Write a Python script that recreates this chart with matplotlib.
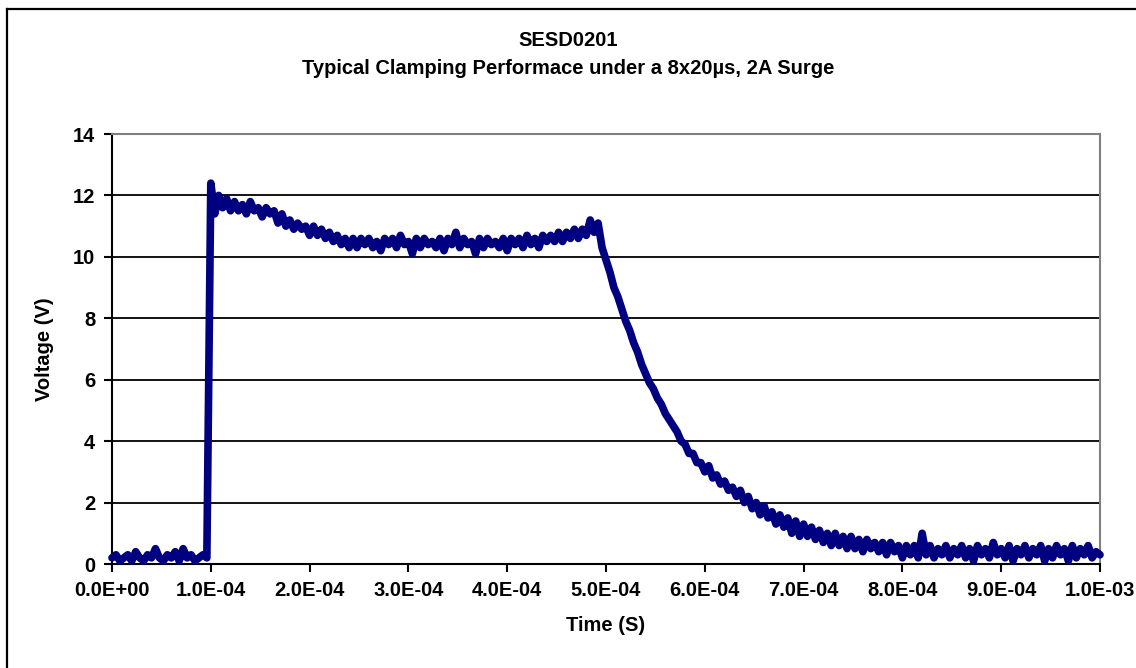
import numpy as np
import matplotlib.pyplot as plt
from matplotlib.lines import Line2D

# sample spacing of the scope trace (s)
dt = 4e-6

# voltage readings (V), every 4 us
v_baseline = [0.2, 0.3, 0.1, 0.2, 0.3, 0.1, 0.4, 0.2, 0.1, 0.3,
              0.2, 0.5, 0.2, 0.1, 0.3, 0.2, 0.4, 0.1, 0.5, 0.2,
              0.3, 0.1, 0.2, 0.3, 0.2]
v_clamp = [12.4, 11.4, 12.0, 11.6, 11.9, 11.5, 11.8, 11.5, 11.7, 11.4,
           11.8, 11.5, 11.6, 11.3, 11.6, 11.4, 11.5, 11.1, 11.4, 11.0,
           11.2, 10.9, 11.1, 10.9, 11.0, 10.7, 11.0, 10.7, 10.9, 10.6,
           10.8, 10.5, 10.7, 10.4, 10.6, 10.3, 10.6]
v_flat = [10.3, 10.6, 10.4, 10.6, 10.3, 10.5, 10.2, 10.6, 10.4, 10.6,
          10.3, 10.7, 10.4, 10.5, 10.1, 10.6, 10.3, 10.6, 10.4, 10.5,
          10.3, 10.6, 10.2, 10.6, 10.4, 10.8, 10.3, 10.6, 10.4, 10.5,
          10.1, 10.6, 10.3, 10.6, 10.4, 10.5, 10.3, 10.6, 10.2, 10.6,
          10.4, 10.6, 10.3, 10.7, 10.4, 10.6, 10.3, 10.7, 10.5, 10.7]
v_decay = [10.5, 10.8, 10.5, 10.8, 10.6, 10.9, 10.6, 10.9, 10.7, 11.2,
           10.8, 11.1, 10.3, 9.9, 9.5, 9.0, 8.7, 8.3, 7.9, 7.6,
           7.2, 6.9, 6.5, 6.2, 5.9, 5.7, 5.4, 5.2, 4.9, 4.7,
           4.5, 4.3, 4.0, 3.9, 3.6, 3.6, 3.3, 3.3, 3.0, 3.2,
           2.8, 2.9, 2.6, 2.7, 2.4, 2.5, 2.2, 2.4, 2.0, 2.2,
           1.8, 2.0, 1.6, 1.9, 1.5, 1.7, 1.3, 1.6, 1.2, 1.5,
           1.0, 1.4, 0.9, 1.3, 0.9, 1.2, 0.8, 1.1, 0.7, 1.0,
           0.6, 1.0, 0.6, 0.9, 0.5, 0.9, 0.5, 0.8, 0.4, 0.8,
           0.5, 0.7, 0.4, 0.7, 0.3, 0.7, 0.4, 0.6, 0.2, 0.6,
           0.3, 0.6, 0.2, 1.0, 0.3]
v_tail = [0.6, 0.2, 0.5, 0.3, 0.6, 0.2, 0.5, 0.3, 0.6, 0.2,
          0.5, 0.1, 0.6, 0.3, 0.5, 0.2, 0.7, 0.3, 0.5, 0.2,
          0.6, 0.1, 0.5, 0.3, 0.6, 0.2, 0.5, 0.3, 0.6, 0.1,
          0.5, 0.2, 0.6, 0.3, 0.5, 0.1, 0.6, 0.2, 0.5, 0.3,
          0.6, 0.2, 0.4, 0.3]

voltage = np.array(v_baseline + v_clamp + v_flat + v_decay + v_tail)
time = np.arange(len(voltage)) * dt

x_ticks = [0, 1e-4, 2e-4, 3e-4, 4e-4, 5e-4, 6e-4, 7e-4, 8e-4, 9e-4, 1e-3]
x_labels = ["0.0E+00", "1.0E-04", "2.0E-04", "3.0E-04", "4.0E-04", "5.0E-04",
            "6.0E-04", "7.0E-04", "8.0E-04", "9.0E-04", "1.0E-03"]
y_ticks = [0, 2, 4, 6, 8, 10, 12, 14]

plt.rcParams['font.family'] = ['Liberation Sans', 'DejaVu Sans']
plt.rcParams['font.weight'] = 'bold'

fig = plt.figure(figsize=(11.36, 6.68), dpi=100)
ax = fig.add_axes([112 / 1136, 104 / 668, 988 / 1136, 430 / 668])

for y in y_ticks[1:-1]:
    ax.axhline(y, color='black', lw=1.3, zorder=1)

ax.plot(time, voltage, color='#000080', lw=5.5, solid_joinstyle='round',
        solid_capstyle='round', zorder=3, clip_on=False)

ax.set_xlim(0, 1e-3)
ax.set_ylim(0, 14)
ax.set_xticks(x_ticks)
ax.set_xticklabels(x_labels)
ax.set_yticks(y_ticks)
ax.tick_params(axis='both', labelsize=14.5, length=6, width=1.5, direction='out', pad=6)

ax.spines['left'].set_linewidth(1.5)
ax.spines['bottom'].set_linewidth(1.5)
ax.spines['top'].set_color('#808080')
ax.spines['right'].set_color('#808080')
ax.spines['top'].set_linewidth(1.5)
ax.spines['right'].set_linewidth(1.5)

ax.set_xlabel("Time (S)", fontsize=14.5, fontweight='bold', labelpad=12)
ax.set_ylabel("Voltage (V)", fontsize=14.5, fontweight='bold', labelpad=14)

fig.text(0.5, 1 - 40 / 668, "SESD0201", ha='center', va='center',
         fontsize=14.5, fontweight='bold')
fig.text(0.5, 1 - 68 / 668, "Typical Clamping Performace under a 8x20µs, 2A Surge",
         ha='center', va='center', fontsize=14.5, fontweight='bold')

# chart-area border (only left and top edges are inside the picture)
fig.add_artist(Line2D([6.5 / 1136, 6.5 / 1136], [0, 1 - 8.5 / 668],
                      transform=fig.transFigure, color='black', lw=1.6))
fig.add_artist(Line2D([6.5 / 1136, 1], [1 - 8.5 / 668, 1 - 8.5 / 668],
                      transform=fig.transFigure, color='black', lw=1.6))

fig.savefig("out.png", dpi=100)
